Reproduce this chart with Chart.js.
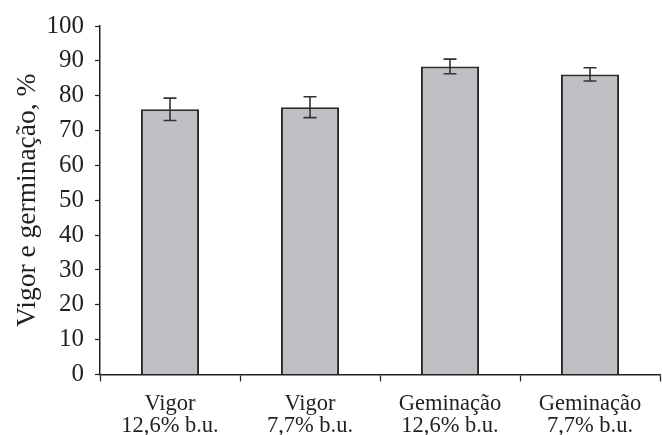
<!DOCTYPE html>
<html>
<head>
<meta charset="utf-8">
<script src="https://cdn.jsdelivr.net/npm/chart.js@4"></script>
<style>
  html, body { margin: 0; padding: 0; background: #fff; }
  #wrap { width: 662px; height: 435px; }
</style>
</head>
<body>
<div id="wrap"><canvas id="c" width="662" height="435"></canvas></div>
<script>
// Seed vigor and germination by moisture content (wet basis)
const categories = [
  ['Vigor', '12,6% b.u.'],
  ['Vigor', '7,7% b.u.'],
  ['Geminação', '12,6% b.u.'],
  ['Geminação', '7,7% b.u.']
];
const values = [76.1, 76.7, 88.4, 86.1];
const errors = [3.2, 3.0, 2.1, 1.9];
const yTicks = [0, 10, 20, 30, 40, 50, 60, 70, 80, 90, 100];

const ink = '#231f20';
const serif = '"Liberation Serif", "Times New Roman", serif';

// Draws symmetric error bars on top of each bar
const errorBars = {
  id: 'errorBars',
  afterDatasetsDraw(chart) {
    const { ctx, scales: { y } } = chart;
    const meta = chart.getDatasetMeta(0);
    ctx.save();
    ctx.strokeStyle = '#333';
    ctx.lineWidth = 1.6;
    meta.data.forEach((bar, i) => {
      const x = bar.x;
      const hi = y.getPixelForValue(values[i] + errors[i]);
      const lo = y.getPixelForValue(values[i] - errors[i]);
      const cap = 6.5;
      ctx.beginPath();
      ctx.moveTo(x, hi); ctx.lineTo(x, lo);
      ctx.moveTo(x - cap, hi); ctx.lineTo(x + cap, hi);
      ctx.moveTo(x - cap, lo); ctx.lineTo(x + cap, lo);
      ctx.stroke();
    });
    ctx.restore();
  }
};

new Chart(document.getElementById('c'), {
  type: 'bar',
  data: {
    labels: categories,
    datasets: [{
      data: values,
      backgroundColor: '#bfc0c4',
      borderColor: '#2a2a2a',
      borderWidth: 2,
      borderSkipped: 'start',
      categoryPercentage: 1,
      barPercentage: 0.415
    }]
  },
  options: {
    responsive: false,
    animation: false,
    layout: { padding: { top: 25, right: 2, left: 0, bottom: 0 } },
    plugins: { legend: { display: false }, tooltip: { enabled: false } },
    scales: {
      x: {
        grid: { drawOnChartArea: false, offset: true, color: ink, tickLength: 7, tickWidth: 1.2 },
        border: { color: ink, width: 1.5 },
        ticks: {
          color: ink,
          font: { family: serif, size: 22.5, lineHeight: 1.0 },
          padding: 11,
          maxRotation: 0,
          autoSkip: false
        },
        afterFit(scale) { scale.height = 60.5; }
      },
      y: {
        min: 0,
        max: 100,
        afterBuildTicks(scale) { scale.ticks = yTicks.map(v => ({ value: v })); },
        grid: { drawOnChartArea: false, color: ink, tickLength: 5, tickWidth: 1.2 },
        border: { color: ink, width: 1.5 },
        ticks: {
          color: ink,
          font: { family: serif, size: 25 },
          padding: 11
        },
        title: {
          display: true,
          text: 'Vigor e germinação, %',
          color: ink,
          font: { family: serif, size: 27.5, lineHeight: 1.2 },
          padding: { top: 11, bottom: 0 }
        },
        afterFit(scale) { scale.width = 100; }
      }
    }
  },
  plugins: [errorBars]
});
</script>
</body>
</html>
